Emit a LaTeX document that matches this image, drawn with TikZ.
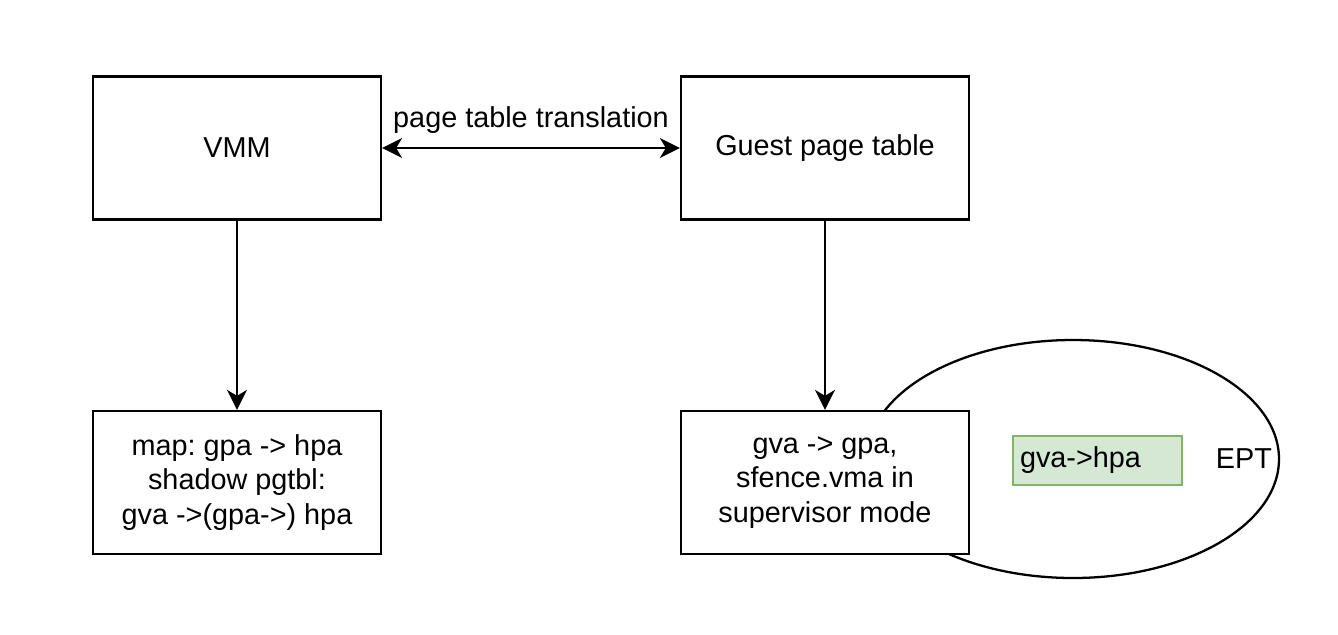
\documentclass[tikz,border=0pt]{standalone}
\usepackage{fontspec}
\setmainfont{Liberation Sans}
\usepackage{tikz}
\usetikzlibrary{arrows.meta,positioning,calc,shapes.geometric}
\definecolor{hpafill}{HTML}{D5E8D4}
\definecolor{hpaline}{HTML}{82B366}
\frenchspacing

\begin{document}
\begin{tikzpicture}[x=0.1mm,y=-0.1mm,line width=0.65pt,
    >={Stealth[length=2mm,width=2mm,inset=0.6mm]},
    txt/.style={font=\fontsize{8.2}{9.8}\selectfont},
    box/.style={draw,fill=white,txt,align=center,minimum width=28.8mm,minimum height=14.3mm}]
    \useasboundingbox (0,0) rectangle (1338,634);
    \node[draw,ellipse,fill=white,minimum width=41.2mm,minimum height=23.8mm] (ept) at (1073,459) {};
    \node[txt,anchor=east,inner sep=0.7mm] (eptlabel) at (ept.east) {EPT};
    \node[draw=hpaline,fill=hpafill,txt,align=left,text width=15.5mm,inner sep=0.7mm,minimum height=4.9mm] (hpa) at (1097.5,460.5) {gva->hpa};

    \node[box] (vmm) at (237,148) {VMM};
    \node[box] (guest) at (825,148) {Guest page table};
    \node[box] (shadow) at (237,482.5) {map: gpa -> hpa\\shadow pgtbl:\\gva ->(gpa->) hpa};
    \node[box] (gpa) at (825,482.5) {gva -> gpa,\\sfence.vma in\\supervisor mode};

    \draw[<->] (vmm) -- node[txt,above=0.2mm] (ptlabel) {page table translation} (guest);
    \draw[->] (vmm) -- (shadow);
    \draw[->] (guest) -- (gpa);
\end{tikzpicture}
\end{document}
